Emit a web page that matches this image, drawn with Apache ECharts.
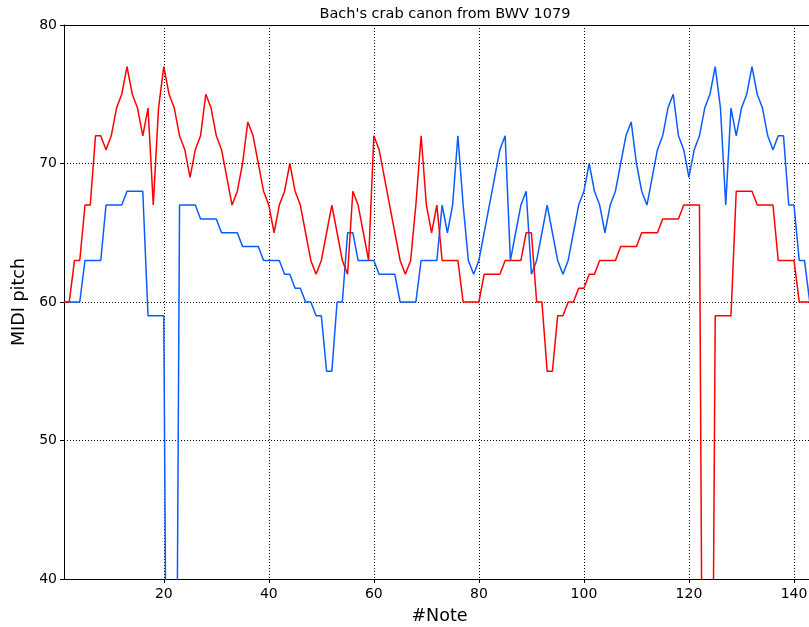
<!DOCTYPE html>
<html>
<head>
<meta charset="utf-8">
<script src="https://cdn.jsdelivr.net/npm/echarts@6/dist/echarts.min.js"></script>
<style>
html,body{margin:0;padding:0;background:#fff;overflow:hidden;}
#chart{width:809px;height:627px;}
</style>
</head>
<body>
<div id="chart"></div>
<script>
// Pitch of each note (MIDI), 0 = rest
const forwardVoice = [
  60,60,60,60, 63,63,63,63, 67,67,67,67, 68,68,68,68, 59,59,59,59,
  0,0,
  67,67,67,67, 66,66,66,66, 65,65,65,65, 64,64,64,64, 63,63,63,63,
  62,62, 61,61, 60,60, 59,59, 55,55, 60,60, 65,65,
  63,63,63,63, 62,62,62,62, 60,60,60,60, 63,63,63,63,
  67,65,67,72,67,63,62,63,
  65,67,69,71,72,63,65,67,
  68,62,63,65,67,65,63,62,
  63,65,67,68,70,68,67,65,
  67,68,70,72,73,70,68,67,
  69,71,72,74,75,72,71,69,
  71,72,74,75,77,74,67,74,
  72,74,75,77,75,74,72,71,
  72,72,67,67,63,63,60,60
];
const backwardVoice = [
  60,60,63,63,67,67,72,72,
  71,72,74,75,77,75,74,72,
  74,67,74,77,75,74,72,71,
  69,71,72,75,74,72,71,69,
  67,68,70,73,72,70,68,67,
  65,67,68,70,68,67,65,63,
  62,63,65,67,65,63,62,68,
  67,65,63,72,71,69,67,65,
  63,62,63,67,72,67,65,67,
  63,63,63,63, 60,60,60,60, 62,62,62,62, 63,63,63,63,
  65,65, 60,60, 55,55, 59,59, 60,60, 61,61, 62,62,
  63,63,63,63, 64,64,64,64, 65,65,65,65, 66,66,66,66, 67,67,67,67,
  0,0,
  59,59,59,59, 68,68,68,68, 67,67,67,67, 63,63,63,63, 60,60,60,60
];
const xTicks = [20, 40, 60, 80, 100, 120, 140];
const yTicks = [40, 50, 60, 70, 80];
const titleText = "Bach's crab canon from BWV 1079";
const xName = '#Note';
const yName = 'MIDI pitch';

const toPairs = arr => arr.map((v, i) => [i + 1, v]);
const font = 'DejaVu Sans';
const chart = echarts.init(document.getElementById('chart'), null, {renderer: 'canvas'});
const dotted = {color: '#000', width: 1, type: [1, 2]};
chart.setOption({
  animation: false,
  backgroundColor: '#fff',
  title: {
    text: titleText,
    left: 440,
    textAlign: 'center',
    top: 2,
    textStyle: {fontFamily: font, fontSize: 14.5, fontWeight: 'normal', color: '#000'}
  },
  grid: {left: 64, top: 25, width: 751, height: 554, containLabel: false, outerBoundsMode: 'none'},
  xAxis: [{
    type: 'value',
    min: 1, max: 144,
    minInterval: 20, maxInterval: 20,
    name: xName,
    nameLocation: 'middle',
    nameGap: 28,
    nameTextStyle: {fontFamily: font, fontSize: 17.5, color: '#000'},
    axisLine: {show: true, onZero: false, lineStyle: {color: '#000', width: 1}},
    axisTick: {show: true, length: 4, lineStyle: {color: '#000'}},
    axisLabel: {
      fontFamily: font, fontSize: 14, color: '#000', margin: 8,
      showMinLabel: false, showMaxLabel: false,
      formatter: v => (xTicks.indexOf(v) >= 0 ? String(v) : '')
    },
    splitLine: {show: true, lineStyle: dotted}
  }, {
    type: 'value', position: 'top', min: 1, max: 144,
    axisLine: {show: true, lineStyle: {color: '#000', width: 1}},
    axisTick: {show: false}, axisLabel: {show: false}, splitLine: {show: false}
  }],
  yAxis: {
    type: 'value',
    min: yTicks[0], max: yTicks[yTicks.length - 1], interval: 10,
    name: yName,
    nameLocation: 'middle',
    nameGap: 32,
    nameTextStyle: {fontFamily: font, fontSize: 17.5, color: '#000'},
    axisLine: {show: true, onZero: false, lineStyle: {color: '#000', width: 1}},
    axisTick: {show: true, length: 4, lineStyle: {color: '#000'}},
    axisLabel: {fontFamily: font, fontSize: 14, color: '#000', margin: 7},
    splitLine: {show: true, lineStyle: dotted}
  },
  series: [{
    type: 'line',
    data: toPairs(forwardVoice),
    showSymbol: false,
    clip: true,
    lineStyle: {color: '#0a5cff', width: 1.5},
    itemStyle: {color: '#0a5cff'}
  }, {
    type: 'line',
    data: toPairs(backwardVoice),
    showSymbol: false,
    clip: true,
    lineStyle: {color: '#ff0000', width: 1.5},
    itemStyle: {color: '#ff0000'}
  }]
});
</script>
</body>
</html>
